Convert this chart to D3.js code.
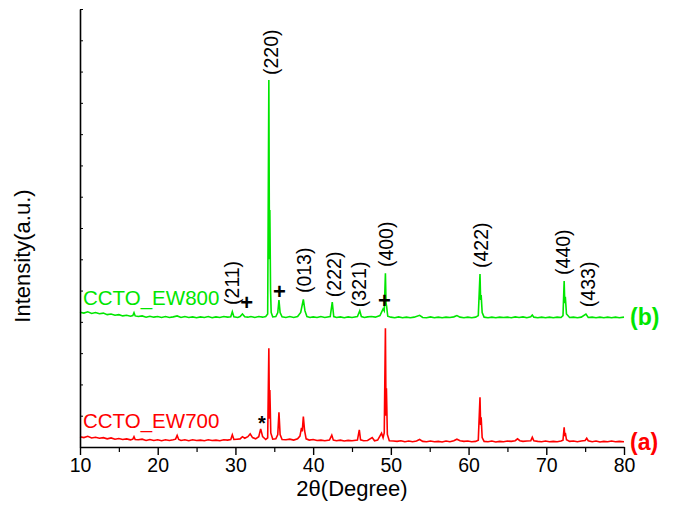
<!DOCTYPE html>
<html>
<head>
<meta charset="utf-8">
<script src="https://cdn.jsdelivr.net/npm/d3@7"></script>
<style>
    body { margin: 0; background: #fff; }
    text { font-family: "Liberation Sans", Arial, sans-serif; }
</style>
</head>
<body>
<script>
// x ticks (2theta) and y range (counts)
var xTicks = [10, 20, 30, 40, 50, 60, 70, 80]
var xMinorTicks = [15, 25, 35, 45, 55, 65, 75]
var yTicks = [0, 1000, 2000, 3000, 4000, 5000, 6000, 7000, 8000, 9000, 10000, 11000, 12000, 13000, 14000]

// pattern (a) CCTO_EW700, [2theta, counts]
var ew700 = [
    [10.0,330],[10.5,300],[11,340],[11.5,290],[12,310],[12.5,280],[13,300],[13.5,260],[14,290],[14.5,250],
    [15,270],[15.5,240],[16,260],[16.5,230],[16.8,250],[16.95,330],[17.1,240],[17.5,230],[18,250],[18.5,210],
    [19,240],[19.5,210],[20,230],[20.5,200],[21,230],[21.5,210],[22,230],[22.3,250],[22.5,370],[22.7,240],
    [23,210],[23.5,230],[24,200],[24.5,230],[25,210],[25.5,220],[26,200],[26.5,230],[27,210],[27.5,220],
    [28,200],[28.5,230],[29,220],[29.4,240],[29.6,390],[29.8,240],[30.2,250],[30.6,260],[30.9,330],[31.2,280],
    [31.6,330],[31.9,420],[32.2,300],[32.6,260],[33.0,330],[33.25,580],[33.5,330],[33.9,240],[34.15,290],[34.3,3155],
    [34.38,900],[34.43,1820],[34.55,450],[34.8,250],[35.2,260],[35.45,400],[35.6,1110],[35.75,400],[36.0,240],[36.5,230],
    [37,250],[37.5,220],[38.0,260],[38.3,350],[38.5,610],[38.6,500],[38.74,970],[38.9,520],[39.1,260],[39.5,220],
    [40,240],[40.5,210],[41,220],[41.5,200],[42.1,220],[42.4,380],[42.6,220],[43,200],[43.5,220],[44,190],
    [44.5,210],[45,200],[45.7,220],[45.94,545],[46.1,230],[46.5,200],[47,210],[47.6,300],[47.9,200],[48.3,220],
    [48.8,440],[49.0,300],[49.15,450],[49.3,3795],[49.38,1000],[49.43,1880],[49.55,400],[49.8,200],[50.3,190],[50.8,180],
    [51.3,200],[51.8,170],[52.3,190],[52.8,170],[53.3,190],[53.7,240],[54.1,180],[54.6,170],[55.1,190],[55.6,170],
    [56.1,180],[56.6,160],[57.1,190],[57.6,170],[58.1,200],[58.5,250],[58.9,200],[59.4,180],[59.9,190],[60.4,170],
    [60.9,180],[61.25,220],[61.47,1590],[61.55,700],[61.62,950],[61.75,300],[62.0,180],[62.5,170],[63,190],[63.5,160],
    [64,180],[64.5,170],[65,190],[65.5,180],[66,200],[66.3,260],[66.6,200],[67,180],[67.5,190],[68.0,200],
    [68.2,310],[68.4,200],[68.9,180],[69.4,170],[69.9,190],[70.4,170],[70.9,180],[71.4,170],[71.9,190],[72.15,220],
    [72.3,630],[72.38,350],[72.45,450],[72.6,230],[73,180],[73.5,190],[74,170],[74.5,190],[75.0,210],[75.2,280],
    [75.4,200],[75.9,170],[76.4,190],[76.9,160],[77.4,180],[77.9,170],[78.4,190],[78.9,170],[79.4,180],[80,170]
]

// pattern (b) CCTO_EW800, [2theta, counts]
var ew800 = [
    [10,4310],[10.5,4280],[11,4320],[11.5,4270],[12,4300],[12.5,4260],[13,4280],[13.5,4230],[14,4250],[14.5,4210],
    [15,4230],[15.5,4190],[16,4210],[16.5,4180],[16.8,4200],[16.95,4290],[17.1,4190],[17.5,4170],[18,4190],[18.5,4150],
    [19,4180],[19.5,4150],[20,4170],[20.5,4140],[21,4170],[21.5,4140],[22,4160],[22.5,4190],[23,4140],[23.5,4170],
    [24,4140],[24.5,4160],[25,4130],[25.5,4160],[26,4140],[26.5,4170],[27,4130],[27.5,4160],[28,4140],[28.5,4170],
    [29,4150],[29.4,4160],[29.6,4325],[29.8,4160],[30.3,4140],[30.6,4170],[30.9,4250],[31.2,4160],[31.6,4150],[32,4170],
    [32.5,4140],[33,4170],[33.5,4150],[33.9,4170],[34.15,4250],[34.3,11730],[34.38,6000],[34.43,7575],[34.52,5000],[34.6,4300],
    [34.8,4160],[35.2,4170],[35.45,4300],[35.6,4700],[35.75,4300],[36,4160],[36.5,4140],[37,4170],[37.5,4140],[38.0,4170],
    [38.4,4300],[38.74,4720],[38.95,4350],[39.2,4170],[39.6,4140],[40,4160],[40.5,4140],[41,4170],[41.5,4140],[42.2,4170],
    [42.46,4635],[42.65,4170],[43,4140],[43.5,4160],[44,4130],[44.5,4160],[45,4140],[45.7,4170],[46.0,4355],[46.2,4170],
    [46.6,4140],[47,4160],[47.5,4170],[48,4150],[48.6,4200],[49.0,4410],[49.15,4350],[49.3,5550],[49.38,4600],[49.45,4500],
    [49.6,4180],[50,4150],[50.5,4130],[51,4160],[51.5,4130],[52,4150],[52.5,4130],[53,4150],[53.7,4210],[54.1,4140],
    [54.6,4130],[55.1,4160],[55.6,4130],[56.1,4150],[56.6,4130],[57.1,4150],[57.6,4140],[58.1,4160],[58.5,4200],[58.9,4150],
    [59.4,4130],[59.9,4150],[60.4,4130],[60.9,4150],[61.25,4200],[61.47,5530],[61.55,4700],[61.62,4860],[61.75,4300],[62.0,4150],
    [62.5,4130],[63,4150],[63.5,4130],[64,4150],[64.5,4140],[65,4150],[65.5,4130],[66,4160],[66.5,4140],[67,4160],
    [67.5,4130],[68,4160],[68.2,4220],[68.4,4150],[68.9,4130],[69.4,4150],[69.9,4130],[70.4,4150],[70.9,4130],[71.4,4150],
    [71.9,4140],[72.15,4200],[72.3,5305],[72.38,4600],[72.45,4800],[72.6,4250],[73,4140],[73.5,4150],[74,4130],[74.5,4150],
    [75.1,4250],[75.4,4140],[75.9,4150],[76.4,4130],[76.9,4150],[77.4,4130],[77.9,4150],[78.4,4130],[78.9,4150],[79.4,4130],
    [80,4150]
]

// miller indices, placed at [2theta, counts] of the label's lower end
var hklNames = ['(211)', '(220)', '(013)', '(222)', '(321)', '(400)', '(422)', '(440)', '(433)']
var hklAt = [[29.5,4540],[34.58,11890],[38.82,4920],[42.69,4790],[45.84,4470],[49.38,5750],[61.6,5720],[72.15,5500],[75.31,4470]]

// secondary phase markers
var plusAt = [[31.45,4600],[35.65,4960],[49.16,4670]]
var starAt = [[33.42,895]]

window.onload = function() {
    var width = 675, height = 524
    var left = 80, right = 624, top = 9, bottom = 447

    var svg = d3.select("body")
        .append('svg')
        .attr('width', width)
        .attr('height', height)

    var x = d3.scaleLinear()
        .domain([10, 80])
        .range([left, right])

    var y = d3.scaleLinear()
        .domain([0, 14000])
        .range([bottom, top])

    var line = d3.line()
        .x(function(d) { return x(d[0]) })
        .y(function(d) { return y(d[1]) })

    // the two patterns
    svg.append('path')
        .datum(ew700)
        .attr('d', line)
        .attr('fill', 'none')
        .attr('stroke', '#ff0000')
        .attr('stroke-width', 1.6)

    svg.append('path')
        .datum(ew800)
        .attr('d', line)
        .attr('fill', 'none')
        .attr('stroke', '#00e600')
        .attr('stroke-width', 1.6)

    // bottom axis, major and minor ticks pointing out
    var xAxis = svg.append('g')
        .attr('transform', 'translate(0,' + bottom + ')')
        .call(d3.axisBottom(x).tickValues(xTicks).tickSize(8).tickSizeOuter(0).tickPadding(3))
    xAxis.select('.domain').attr('stroke-width', 1.6)
    xAxis.selectAll('.tick line').attr('stroke-width', 1.4)
    xAxis.selectAll('text')
        .style('font-size', '19.5px')
        .attr('fill', '#000')

    svg.append('g')
        .attr('transform', 'translate(0,' + bottom + ')')
        .call(d3.axisBottom(x).tickValues(xMinorTicks).tickSize(5).tickFormat(''))
        .call(function(g) { g.select('.domain').remove() })
        .selectAll('.tick line').attr('stroke-width', 1.2)

    // left axis, small inward ticks, no labels
    var yAxis = svg.append('g')
        .attr('transform', 'translate(' + left + ',0)')
        .call(d3.axisLeft(y).tickValues(yTicks).tickSize(-3).tickSizeOuter(0).tickFormat(''))
    yAxis.select('.domain').attr('stroke-width', 1.6)

    // axis titles
    svg.append('text')
        .attr('x', (left + right) / 2)
        .attr('y', 496)
        .attr('text-anchor', 'middle')
        .style('font-size', '22px')
        .text('2\u03b8(Degree)')

    svg.append('text')
        .attr('transform', 'translate(30,' + 256 + ') rotate(-90)')
        .attr('text-anchor', 'middle')
        .style('font-size', '22px')
        .text('Intensity(a.u.)')

    // sample names
    svg.append('text')
        .attr('x', x(10.39))
        .attr('y', y(4540))
        .attr('fill', '#00e600')
        .style('font-size', '20.5px')
        .text('CCTO_EW800')

    svg.append('text')
        .attr('x', x(10.39))
        .attr('y', y(600))
        .attr('fill', '#ff0000')
        .style('font-size', '20.5px')
        .text('CCTO_EW700')

    // (a) and (b) tags right of the plot
    svg.append('text')
        .attr('x', right + 6)
        .attr('y', y(4150))
        .attr('dy', '0.36em')
        .attr('fill', '#00e600')
        .style('font-size', '23px')
        .style('font-weight', 'bold')
        .text('(b)')

    svg.append('text')
        .attr('x', right + 6)
        .attr('y', y(170))
        .attr('dy', '0.36em')
        .attr('fill', '#ff0000')
        .style('font-size', '23px')
        .style('font-weight', 'bold')
        .text('(a)')

    // miller index labels, rotated
    svg.selectAll('.hkl')
        .data(hklAt)
        .enter()
        .append('text')
        .attr('class', 'hkl')
        .attr('transform', function(d) {
            return 'translate(' + x(d[0]) + ',' + y(d[1]) + ') rotate(-90)'
        })
        .attr('dy', '0.36em')
        .style('font-size', '19.5px')
        .text(function(d, i) { return hklNames[i] })

    svg.selectAll('.plus')
        .data(plusAt)
        .enter()
        .append('text')
        .attr('class', 'plus')
        .attr('x', function(d) { return x(d[0]) })
        .attr('y', function(d) { return y(d[1]) })
        .attr('dy', '0.32em')
        .attr('text-anchor', 'middle')
        .style('font-size', '22px')
        .style('font-weight', 'bold')
        .text('+')

    svg.selectAll('.star')
        .data(starAt)
        .enter()
        .append('text')
        .attr('class', 'star')
        .attr('x', function(d) { return x(d[0]) })
        .attr('y', function(d) { return y(d[1]) })
        .attr('dy', '0.57em')
        .attr('text-anchor', 'middle')
        .style('font-size', '20px')
        .style('font-weight', 'bold')
        .text('*')
}
</script>
</body>
</html>
